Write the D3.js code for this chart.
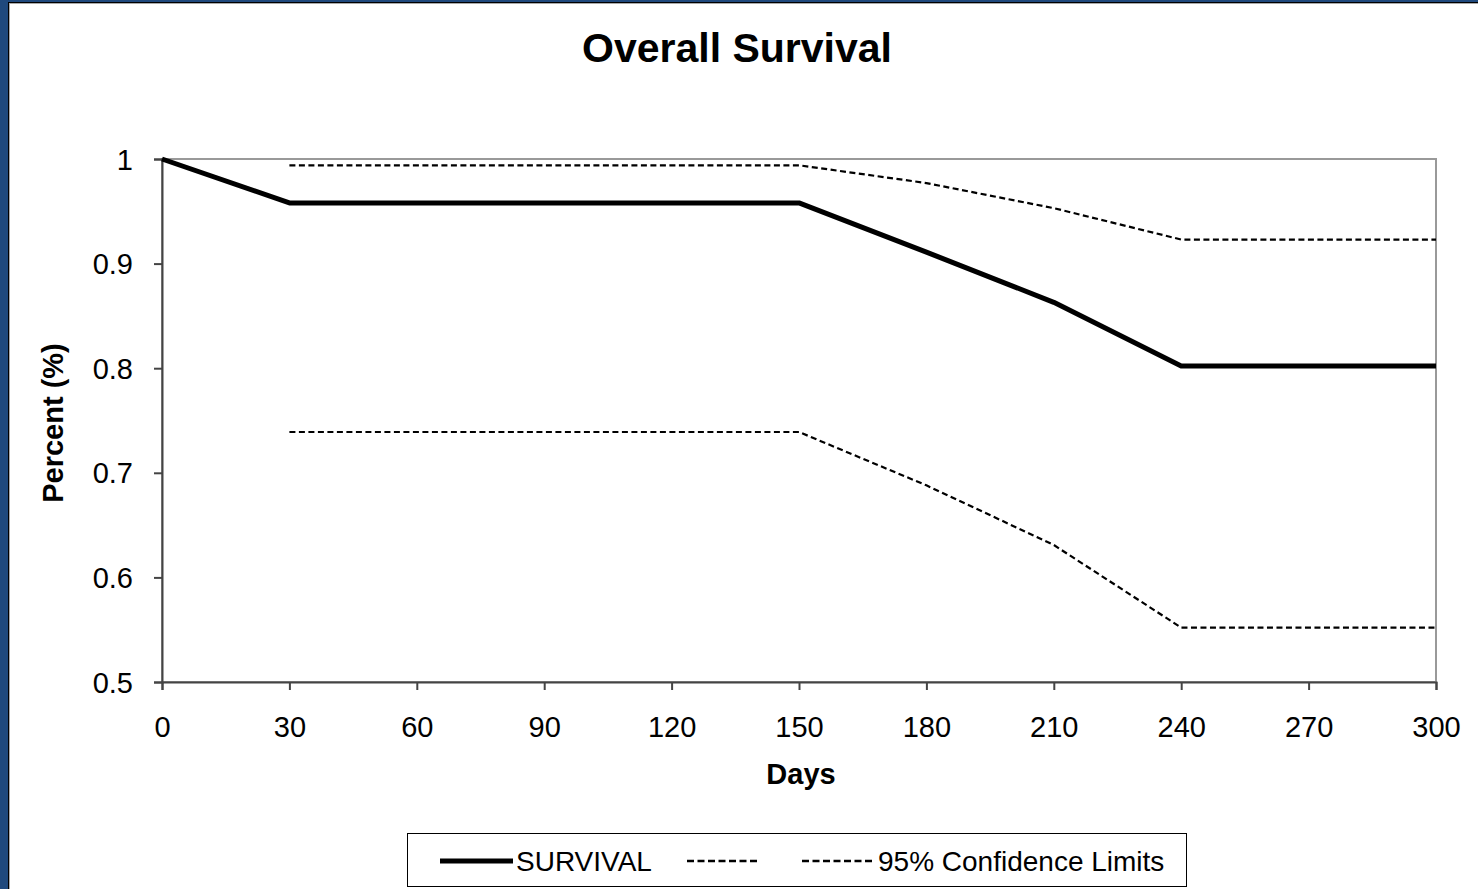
<!DOCTYPE html>
<html><head><meta charset="utf-8">
<script src="https://cdn.jsdelivr.net/npm/d3@7"></script>
<style>html,body{margin:0;padding:0;background:#1f497d;}svg{display:block;}</style>
</head><body>
<svg id="c" width="1478" height="889"></svg>
<script>
const days = [0, 30, 150, 180, 210, 240, 300];
const survival = [1, 0.958, 0.958, 0.911, 0.863, 0.802, 0.802];
const ciDays = [30, 150, 180, 210, 240, 300];
const upperCI = [0.994, 0.994, 0.977, 0.953, 0.923, 0.923];
const lowerCI = [0.739, 0.739, 0.688, 0.631, 0.552, 0.552];
const xTicks = [0, 30, 60, 90, 120, 150, 180, 210, 240, 270, 300];
const yTicks = [0.5, 0.6, 0.7, 0.8, 0.9, 1];

const svg = d3.select("#c");
const font = "Liberation Sans, Arial, sans-serif";
// background frame
svg.append("rect").attr("x",0).attr("y",0).attr("width",1478).attr("height",889).attr("fill","#1f497d");
svg.append("rect").attr("x",8.5).attr("y",2.5).attr("width",1475).attr("height",890).attr("fill","#fff").attr("stroke","#000").attr("stroke-width",1);
svg.append("line").attr("x1",9.5).attr("x2",9.5).attr("y1",3).attr("y2",889).attr("stroke","#aaa");
svg.append("line").attr("x1",9).attr("x2",1478).attr("y1",3.5).attr("y2",3.5).attr("stroke","#aaa");

const L = 162, R = 1436, T = 159, B = 682;
const x = d3.scaleLinear().domain([0,300]).range([L,R]);
const y = d3.scaleLinear().domain([0.5,1]).range([B,T]);

// plot area border
svg.append("rect").attr("x",L).attr("y",T).attr("width",R-L).attr("height",B-T)
  .attr("fill","none").attr("stroke","#999").attr("stroke-width",2);

const xAxis = svg.append("g").attr("transform",`translate(0,${B})`)
  .call(d3.axisBottom(x).tickValues(xTicks).tickSize(8).tickPadding(26).tickFormat(d3.format("d")));
const yAxis = svg.append("g").attr("transform",`translate(${L},0)`)
  .call(d3.axisLeft(y).tickValues(yTicks).tickSize(8).tickPadding(21).tickFormat(d => d===1 ? "1" : d3.format(".1f")(d)));
[xAxis,yAxis].forEach(g=>{
  g.attr("font-size",null).attr("font-family",null);
  g.selectAll("path,line").attr("stroke","#444").attr("stroke-width",2);
  g.selectAll("text").attr("font-family",font).attr("font-size",29).attr("fill","#000");
});
yAxis.selectAll("text").attr("dy","0.35em");

const line = d3.line().x(d=>x(d[0])).y(d=>y(d[1]));
svg.append("path").datum(ciDays.map((d,i)=>[d,upperCI[i]])).attr("d",line)
  .attr("fill","none").attr("stroke","#000").attr("stroke-width",2.2).attr("stroke-dasharray","6,3.5");
svg.append("path").datum(ciDays.map((d,i)=>[d,lowerCI[i]])).attr("d",line)
  .attr("fill","none").attr("stroke","#000").attr("stroke-width",2.2).attr("stroke-dasharray","6,3.5");
svg.append("path").datum(days.map((d,i)=>[d,survival[i]])).attr("d",line)
  .attr("fill","none").attr("stroke","#000").attr("stroke-width",5).attr("stroke-linejoin","round");

// titles
svg.append("text").attr("x",737).attr("y",62).attr("text-anchor","middle")
  .attr("font-family",font).attr("font-weight","bold").attr("font-size",41).text("Overall Survival");
svg.append("text").attr("x",801).attr("y",784).attr("text-anchor","middle")
  .attr("font-family",font).attr("font-weight","bold").attr("font-size",29).text("Days");
svg.append("text").attr("transform","translate(63,423) rotate(-90)").attr("text-anchor","middle")
  .attr("font-family",font).attr("font-weight","bold").attr("font-size",29).text("Percent (%)");

// legend
const lg = svg.append("g");
lg.append("rect").attr("x",407.5).attr("y",833.5).attr("width",779).attr("height",53)
  .attr("fill","#fff").attr("stroke","#000").attr("stroke-width",1);
lg.append("line").attr("x1",440).attr("x2",513).attr("y1",861).attr("y2",861).attr("stroke","#000").attr("stroke-width",5);
lg.append("text").attr("x",516).attr("y",871).attr("font-family",font).attr("font-size",28).text("SURVIVAL");
lg.append("line").attr("x1",687).attr("x2",757).attr("y1",861).attr("y2",861).attr("stroke","#000").attr("stroke-width",2.5).attr("stroke-dasharray","7,3.5");
lg.append("line").attr("x1",802).attr("x2",873).attr("y1",861).attr("y2",861).attr("stroke","#000").attr("stroke-width",2.5).attr("stroke-dasharray","7,3.5");
lg.append("text").attr("x",878).attr("y",871).attr("font-family",font).attr("font-size",28).text("95% Confidence Limits");
</script>
</body></html>
